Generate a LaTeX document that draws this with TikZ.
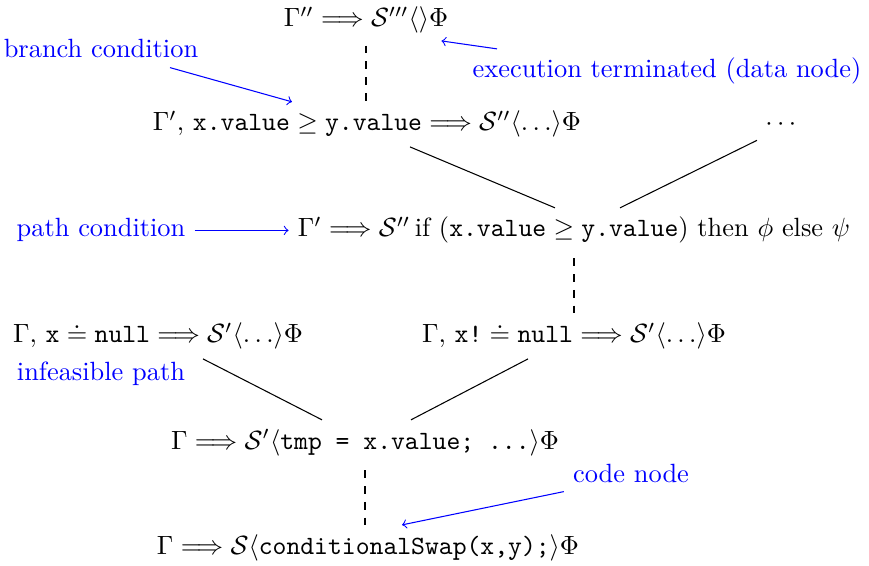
\documentclass[tikz,border=0pt]{standalone}
\usepackage{amsmath}
\usepackage{amssymb}
\usetikzlibrary{calc}

\begin{document}
\begin{tikzpicture}[x=0.379pt,y=-0.379pt,
	seq/.style={anchor=base},
	note/.style={anchor=base,text=blue},
	pointer/.style={blue,->}]
	\useasboundingbox (0,0) rectangle (869,566);
	\node[seq] (d3) at (366,27) {$\Gamma'' \Longrightarrow \mathcal{S}'''\langle\rangle\Phi$};
	\node[seq] (d2) at (367,131) {$\Gamma'{,}\ \texttt{x.value} \geq \texttt{y.value} \Longrightarrow \mathcal{S}''\langle\ldots\rangle\Phi$};
	\node[seq] (dots) at (783,131) {$\cdots$};
	\node[seq] (p) at (574,237) {$\Gamma' \Longrightarrow \mathcal{S}''$\,if $(\texttt{x.value} \geq \texttt{y.value})$ then $\phi$ else $\psi$};
	\node[seq] (l1) at (158,343) {$\Gamma{,}\ \texttt{x} \doteq \texttt{null} \Longrightarrow \mathcal{S}'\langle\ldots\rangle\Phi$};
	\node[seq] (r1) at (574,343) {$\Gamma{,}\ \texttt{x!} \doteq \texttt{null} \Longrightarrow \mathcal{S}'\langle\ldots\rangle\Phi$};
	\node[seq] (c1) at (365,449) {$\Gamma \Longrightarrow \mathcal{S}'\langle\texttt{tmp = x.value; ...}\rangle\Phi$};
	\node[seq] (c0) at (368,554) {$\Gamma \Longrightarrow \mathcal{S}\langle\texttt{conditionalSwap(x,y);}\rangle\Phi$};

	\node[note] (branch) at (101,58) {branch condition};
	\node[note] (term) at (667,78) {execution terminated (data node)};
	\node[note] (pathc) at (101,237) {path condition};
	\node[note] (infeas) at (101,380) {infeasible path};
	\node[note] (code) at (631,482) {code node};

	% tree
	\draw[dashed,shorten <=1pt] (d3.south) -- (d3.south |- d2.north);
	\draw ($(d2.south)+(43,0)$) -- ($(p.north)+(-19,0)$);
	\draw ($(dots.south)+(-26,0)$) -- ($(p.north)+(46,0)$);
	\draw[dashed,shorten <=2pt] (p.south) -- (p.south |- r1.north);
	\draw ($(l1.south)+(45,0)$) -- ($(c1.north)+(-43,0)$);
	\draw ($(r1.south)+(-46,0)$) -- ($(c1.north)+(46,0)$);
	\draw[dashed,shorten <=2pt] (c1.south) -- (c1.south |- c0.north);

	% notes
	\draw[pointer] ($(branch.south)+(69,0)$) -- ($(d2.north)+(-75,0)$);
	\draw[pointer] ($(term.north)+(-170,0)$) -- ($(d3.south east)+(-16,-2)$);
	\draw[pointer] (pathc.east) -- (pathc.east -| p.west);
	\draw[pointer] (code.south west) -- ($(c0.north)+(34,0)$);
\end{tikzpicture}
\end{document}
